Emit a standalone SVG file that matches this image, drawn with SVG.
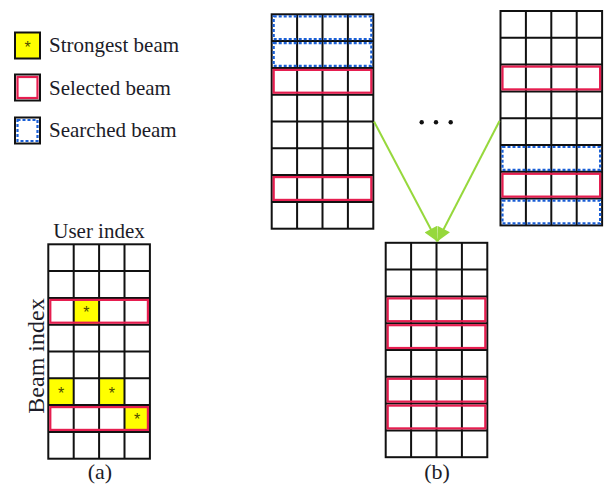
<svg xmlns="http://www.w3.org/2000/svg" xmlns:xlink="http://www.w3.org/1999/xlink" width="606" height="486" viewBox="0 0 606 486">
<style>
.txt{font-family:"Liberation Serif","Times New Roman",serif;fill:#1c1c28}
.lg{font-size:21px}
.grid{fill:none;stroke:#111;stroke-width:2}
.sel{fill:none;stroke:#e61e50;stroke-width:2.2}
.srch{fill:none;stroke:#1a5fd6;stroke-width:2.2;stroke-dasharray:3 2}
.yel{fill:#ffff00}
.ast{font-family:"Liberation Sans",Arial,sans-serif;font-size:16px;fill:#4a4a00;text-anchor:middle}
.conn{stroke:#96d83c;stroke-width:2;fill:none}
</style>
<defs>
<g id="gridTpl">
<rect class="grid" x="0" y="0" width="101.6" height="214.4"/>
<path class="grid" d="M25.4,0V214.4M50.8,0V214.4M76.2,0V214.4M0,26.8H101.6M0,53.6H101.6M0,80.4H101.6M0,107.2H101.6M0,134H101.6M0,160.8H101.6M0,187.6H101.6"/>
</g>
<marker id="arr" viewBox="0 0 10 10" refX="10" refY="5" markerWidth="15" markerHeight="14" markerUnits="userSpaceOnUse" orient="auto">
<path d="M0,0L10,5L0,10z" fill="#96d83c"/>
</marker>
</defs>

<g id="legend-strongest">
<rect x="15" y="32.5" width="25" height="26" fill="#ffff00" stroke="#111" stroke-width="2"/>
<text class="ast" x="27.5" y="53">*</text>
<text class="txt lg" x="49" y="52">Strongest beam</text>
</g>
<g id="legend-selected">
<rect x="15" y="74.5" width="25" height="26" fill="#fff" stroke="#111" stroke-width="2"/>
<rect class="sel" x="17.5" y="77" width="20" height="21"/>
<text class="txt lg" x="49" y="95">Selected beam</text>
</g>
<g id="legend-searched">
<rect x="15" y="117.5" width="25" height="26" fill="#fff" stroke="#111" stroke-width="2"/>
<rect class="srch" x="17.5" y="120" width="20" height="21"/>
<text class="txt lg" x="49" y="137">Searched beam</text>
</g>

<g id="grid-a">
<text class="txt lg" x="99" y="237.5" text-anchor="middle">User index</text>
<text class="txt" font-size="24" transform="translate(43.5,356) rotate(-90)" text-anchor="middle">Beam index</text>
<g transform="translate(48.3,244.3)">
<rect class="yel" x="25.4" y="53.6" width="25.4" height="26.8"/>
<rect class="yel" x="0" y="134" width="25.4" height="26.8"/>
<rect class="yel" x="50.8" y="134" width="25.4" height="26.8"/>
<rect class="yel" x="76.2" y="160.8" width="25.4" height="26.8"/>
<use xlink:href="#gridTpl"/>
<rect class="sel" x="2" y="55.6" width="97.6" height="22.8"/>
<rect class="sel" x="2" y="162.8" width="97.6" height="22.8"/>
<text class="ast" x="38.1" y="74">*</text>
<text class="ast" x="12.7" y="154.4">*</text>
<text class="ast" x="63.5" y="154.4">*</text>
<text class="ast" x="88.9" y="181.2">*</text>
</g>
<text class="txt" font-size="22" x="100" y="479" text-anchor="middle">(a)</text>
</g>

<g id="grid-b-left" transform="translate(271.7,14.3)">
<use xlink:href="#gridTpl"/>
<rect class="srch" x="2" y="2" width="97.6" height="22.8"/>
<rect class="srch" x="2" y="28.8" width="97.6" height="22.8"/>
<rect class="sel" x="2" y="55.6" width="97.6" height="22.8"/>
<rect class="sel" x="2" y="162.8" width="97.6" height="22.8"/>
</g>

<g id="grid-b-right" transform="translate(500.5,11)">
<use xlink:href="#gridTpl"/>
<rect class="sel" x="2" y="55.6" width="97.6" height="22.8"/>
<rect class="srch" x="2" y="136" width="97.6" height="22.8"/>
<rect class="sel" x="2" y="162.8" width="97.6" height="22.8"/>
<rect class="srch" x="2" y="189.6" width="97.6" height="22.8"/>
</g>

<g id="ellipsis">
<circle cx="421.7" cy="122.3" r="2.2" fill="#111"/>
<circle cx="436" cy="122.3" r="2.2" fill="#111"/>
<circle cx="450.7" cy="122.3" r="2.2" fill="#111"/>
</g>

<g id="grid-b-bottom">
<g transform="translate(385.7,242.8)">
<use xlink:href="#gridTpl"/>
<rect class="sel" x="2" y="55.6" width="97.6" height="22.8"/>
<rect class="sel" x="2" y="82.4" width="97.6" height="22.8"/>
<rect class="sel" x="2" y="136" width="97.6" height="22.8"/>
<rect class="sel" x="2" y="162.8" width="97.6" height="22.8"/>
</g>
<text class="txt" font-size="22" x="437" y="479" text-anchor="middle">(b)</text>
</g>

<g id="connectors">
<line class="conn" x1="374" y1="121.5" x2="437.3" y2="241.5" marker-end="url(#arr)"/>
<line class="conn" x1="499.5" y1="121" x2="437.3" y2="241.5" marker-end="url(#arr)"/>
</g>
</svg>
